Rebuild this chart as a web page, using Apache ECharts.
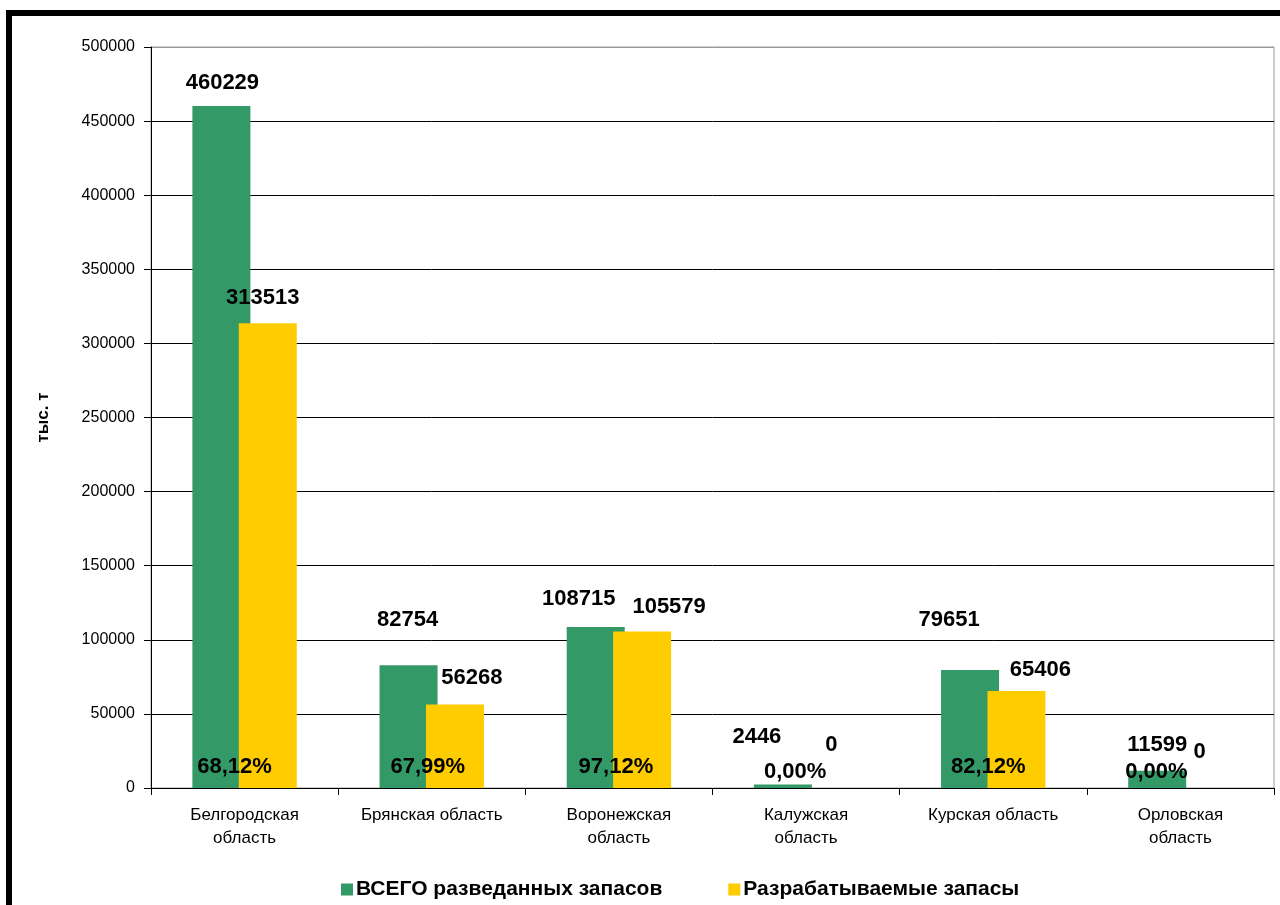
<!DOCTYPE html>
<html>
<head>
<meta charset="utf-8">
<script src="https://cdn.jsdelivr.net/npm/echarts@6/dist/echarts.min.js"></script>
<style>
  html, body { margin: 0; padding: 0; width: 1280px; height: 905px; overflow: hidden; background: #fff; }
  #frame { position: absolute; left: 6px; top: 10px; width: 1400px; height: 1100px; border: 6px solid #000; box-sizing: border-box; }
  #chart { position: absolute; left: 0; top: 0; width: 1280px; height: 905px; }
</style>
</head>
<body>
<div id="frame"></div>
<div id="chart"></div>
<script>
// ---- data ----
const categories = [
  'Белгородская\nобласть',
  'Брянская область',
  'Воронежская\nобласть',
  'Калужская\nобласть',
  'Курская область',
  'Орловская\nобласть'
];
const seriesNames = ['ВСЕГО разведанных запасов', 'Разрабатываемые запасы'];
const totalReserves = [460229, 82754, 108715, 2446, 79651, 11599];
const developedReserves = [313513, 56268, 105579, 0, 65406, 0];
const sharePercent = ['68,12%', '67,99%', '97,12%', '0,00%', '82,12%', '0,00%'];
const yMin = 0, yMax = 500000, yStep = 50000;

// ---- label layout (style only) ----
const totalLabelShift = [[1, -7], [-1, -29], [-17, -12], [-26, -31], [-21, -34], [0, -10]];
const devLabelShift = [[-5, -9], [17, -11], [27, -9], [2, -27], [24, -5], [-4, -20]];
const pctLabelShift = [[-10, -21], [-4, -21], [-3, -21], [-11, -16], [-5, -21], [-24, -16]];

const FONT = '"Liberation Sans", Arial, sans-serif';
const GREEN = '#339966', YELLOW = '#FFCC00';

const valLabel = {
  show: true, position: 'top', distance: 5,
  color: '#000', fontFamily: FONT, fontWeight: 'bold', fontSize: 22,
  textBorderWidth: 0
};

const chart = echarts.init(document.getElementById('chart'), null, { renderer: 'canvas' });
const splitColors = [];
for (let v = yMin; v <= yMax; v += yStep) splitColors.push(v === yMax ? '#9a9a9a' : '#000');

chart.setOption({
  animation: false,
  backgroundColor: 'transparent',
  grid: { left: 151, right: 6, top: 47, bottom: 117, show: true, borderColor: '#9a9a9a', borderWidth: 1, backgroundColor: 'transparent' },
  legend: {
    left: 336, top: 874,
    itemWidth: 12, itemHeight: 12, itemGap: 66,
    icon: 'rect',
    data: seriesNames,
    textStyle: { fontFamily: FONT, fontWeight: 'bold', fontSize: 21, color: '#000', padding: [0, 0, 0, -2] }
  },
  xAxis: {
    type: 'category',
    data: categories,
    axisLine: { lineStyle: { color: '#000', width: 1 } },
    axisTick: { show: true, length: 7, alignWithLabel: false, lineStyle: { color: '#000' } },
    axisLabel: { color: '#000', fontFamily: FONT, fontSize: 17, lineHeight: 23, margin: 16, interval: 0 }
  },
  yAxis: {
    type: 'value', min: yMin, max: yMax, interval: yStep,
    name: 'тыс. т', nameLocation: 'middle', nameRotate: 90, nameGap: 99,
    nameTextStyle: { color: '#000', fontFamily: FONT, fontWeight: 'bold', fontSize: 17 },
    axisLine: { show: true, lineStyle: { color: '#000' } },
    axisTick: { show: true, length: 7, lineStyle: { color: '#000' } },
    axisLabel: { color: '#000', fontFamily: FONT, fontSize: 16, margin: 16, formatter: v => String(v) },
    splitLine: { show: true, lineStyle: { color: splitColors, width: 1 } }
  },
  series: [
    {
      name: seriesNames[0], type: 'bar', barWidth: 58, barGap: '-20%',
      itemStyle: { color: GREEN },
      data: totalReserves.map((v, i) => ({ value: v, label: Object.assign({}, valLabel, { offset: totalLabelShift[i] }) })),
      z: 2
    },
    {
      name: seriesNames[1], type: 'bar', barWidth: 58,
      itemStyle: { color: YELLOW },
      data: developedReserves.map((v, i) => ({ value: v, label: Object.assign({}, valLabel, { offset: devLabelShift[i] }) })),
      z: 3
    },
    {
      name: 'share', type: 'scatter', symbolSize: 0, silent: true,
      itemStyle: { color: '#000', opacity: 1 },
      data: sharePercent.map((p, i) => ({
        value: [i, 0],
        label: {
          show: true, position: 'inside', formatter: p, offset: pctLabelShift[i],
          color: '#000', opacity: 1, fontFamily: FONT, fontWeight: 'bold', fontSize: 22,
          textBorderWidth: 0, textBorderColor: 'transparent'
        }
      })),
      z: 5
    }
  ]
});
</script>
</body>
</html>
